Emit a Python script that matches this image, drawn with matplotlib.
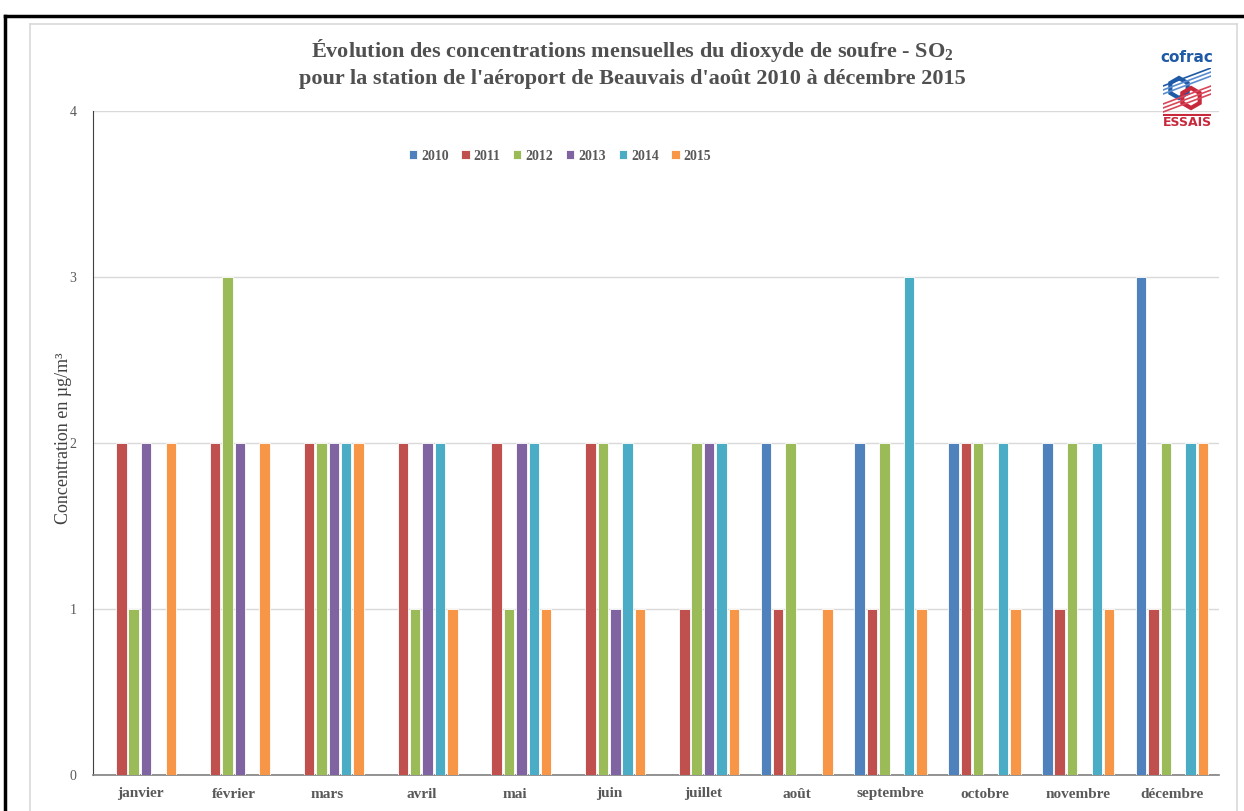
import numpy as np
import matplotlib
matplotlib.use("Agg")
import matplotlib.pyplot as plt
from matplotlib.lines import Line2D
from matplotlib.patches import RegularPolygon

plt.rcParams["mathtext.fontset"] = "custom"
plt.rcParams["mathtext.rm"] = "Liberation Serif:bold"
plt.rcParams["mathtext.bf"] = "Liberation Serif:bold"
plt.rcParams["mathtext.it"] = "Liberation Serif:bold"

months = ["janvier", "février", "mars", "avril", "mai", "juin", "juillet",
          "août", "septembre", "octobre", "novembre", "décembre"]
years = ["2010", "2011", "2012", "2013", "2014", "2015"]
nan = np.nan
v2010 = [nan, nan, nan, nan, nan, nan, nan, 2, 2, 2, 2, 3]
v2011 = [2, 2, 2, 2, 2, 2, 1, 1, 1, 2, 1, 1]
v2012 = [1, 3, 2, 1, 1, 2, 2, 2, 2, 2, 2, 2]
v2013 = [2, 2, 2, 2, 2, 1, 2, nan, nan, nan, nan, nan]
v2014 = [nan, nan, 2, 2, 2, 2, 2, nan, 3, 2, 2, 2]
v2015 = [2, 2, 2, 1, 1, 1, 1, 1, 1, 1, 1, 2]
series = [v2010, v2011, v2012, v2013, v2014, v2015]
colors = ["#4F81BD", "#C0504D", "#9BBB59", "#8064A2", "#4BACC6", "#F79646"]

serif = ["Liberation Serif", "DejaVu Serif"]
grey = "#595959"

fig = plt.figure(figsize=(12.44, 8.11), dpi=100)
W, H = 1244, 811

# outer frames
fig.add_artist(Line2D([5/W, 5/W], [0, 1-16/H], color="black", lw=2.5, transform=fig.transFigure))
fig.add_artist(Line2D([5/W, 1], [1-16/H, 1-16/H], color="black", lw=2.5, transform=fig.transFigure))
fig.add_artist(Line2D([30/W, 30/W], [0, 1-24/H], color="#d9d9d9", lw=1.2, transform=fig.transFigure))
fig.add_artist(Line2D([30/W, 1237/W], [1-24/H, 1-24/H], color="#d9d9d9", lw=1.2, transform=fig.transFigure))
fig.add_artist(Line2D([1237/W, 1237/W], [0, 1-24/H], color="#d9d9d9", lw=1.2, transform=fig.transFigure))

ax = fig.add_axes([93/W, 1-775/H, (1219-93)/W, (775-111)/H])
x = np.arange(len(months))
slot = 0.132
bw = 0.112
for i, (vals, c, yr) in enumerate(zip(series, colors, years)):
    ax.bar(x + (i - 2.5) * slot, vals, bw, color=c, edgecolor="white", linewidth=0.6, label=yr, zorder=3)

ax.set_xlim(-0.5, 11.5)
ax.set_ylim(0, 4)
ax.set_yticks([0, 1, 2, 3, 4])
ax.yaxis.grid(True, color="#d9d9d9", linewidth=1, zorder=0)
ax.set_axisbelow(True)
for s in ["top", "right"]:
    ax.spines[s].set_visible(False)
ax.spines["left"].set_color("#404040")
ax.spines["bottom"].set_color("#808080")
ax.spines["bottom"].set_linewidth(1.2)
ax.tick_params(axis="both", length=0)
ax.tick_params(axis="y", pad=12)
ax.tick_params(axis="x", pad=9)
ax.set_xticks(x)
ax.set_xticklabels(months, fontfamily=serif, fontweight="bold", fontsize=11, color=grey)
for lab in ax.get_yticklabels():
    lab.set_fontfamily(serif)
    lab.set_fontsize(10)
    lab.set_color(grey)

fig.text(63/W, 1-438/H, "Concentration en µg/m³", rotation=90, ha="center", va="center",
         fontfamily=serif, fontsize=13, color="#404040")

leg = ax.legend(loc="center", bbox_to_anchor=(560/W, 1-156/H), bbox_transform=fig.transFigure,
                ncol=6, frameon=False, prop={"family": serif, "weight": "bold", "size": 10},
                handlelength=0.6, handleheight=0.6, handletextpad=0.3, columnspacing=0.9)
for t in leg.get_texts():
    t.set_color(grey)

fig.text(632/W, 1-50/H, r"Évolution des concentrations mensuelles du dioxyde de soufre - SO$_\mathbf{2}$",
         ha="center", va="center", fontfamily=serif, fontweight="bold", fontsize=16, color="#505050")
fig.text(632/W, 1-79/H, "pour la station de l'aéroport de Beauvais d'août 2010 à décembre 2015",
         ha="center", va="center", fontfamily=serif, fontweight="bold", fontsize=16, color="#505050")

# logo
fig.text(1187/W, 1-57/H, "cofrac", ha="center", va="center", fontfamily="DejaVu Sans",
         fontweight="bold", fontsize=11, color="#1f5aa6")
fig.text(1187/W, 1-122/H, "ESSAIS", ha="center", va="center", fontfamily="DejaVu Sans",
         fontweight="bold", fontsize=9, color="#c8283c")
lax = fig.add_axes([1163/W, 1-116/H, 48/W, 48/H])
lax.set_xlim(0, 48); lax.set_ylim(0, 48); lax.axis("off")
for k in range(3):
    lax.plot([0, 48], [30 - k*4, 48 - k*4], color="#1f5aa6" if k == 0 else "#5a8ccf", lw=1.2)
    lax.plot([0, 48], [2 - k*4 + 10, 20 - k*4 + 10], color="#d9475a", lw=1.2)
lax.add_patch(RegularPolygon((16, 28), 6, radius=10, fill=False, ec="#1f5aa6", lw=3))
lax.add_patch(RegularPolygon((28, 18), 6, radius=10, fill=False, ec="#c8283c", lw=3))
lax.plot([0, 48], [1, 1], color="#c8283c", lw=1.5)

fig.savefig("out.png", dpi=100)
